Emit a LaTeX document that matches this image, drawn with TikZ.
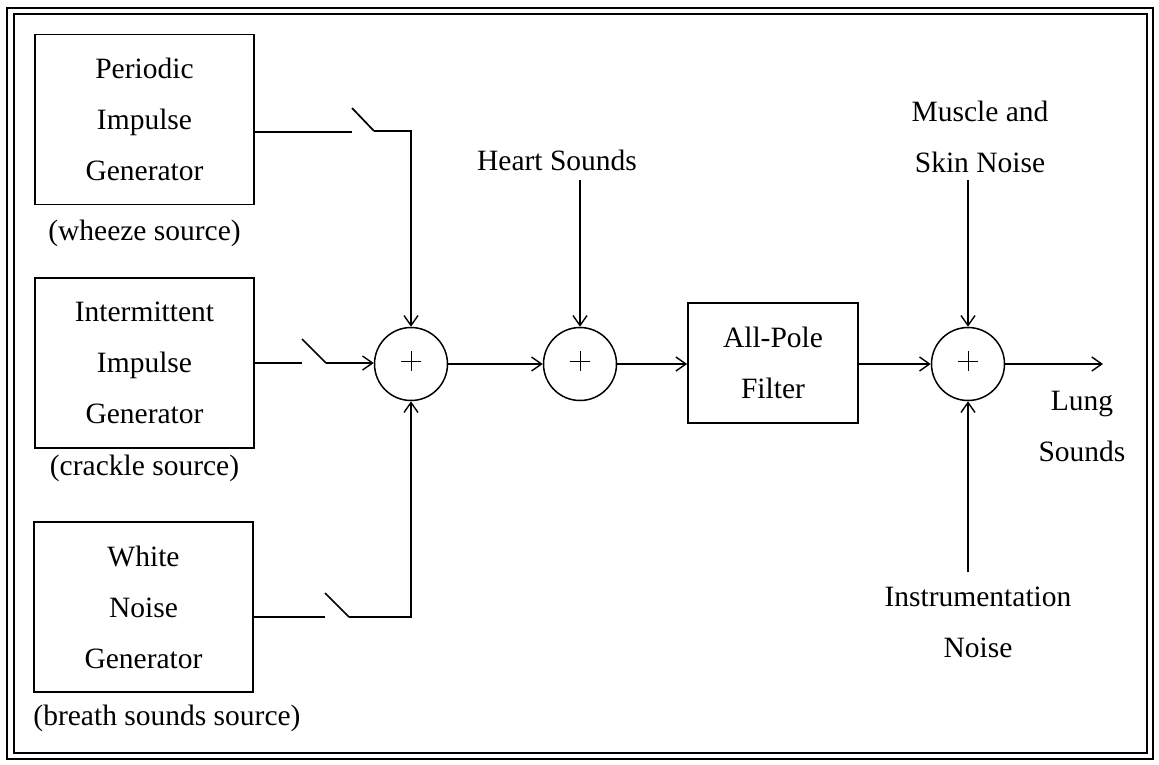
\documentclass[tikz,border=0pt]{standalone}
\usepackage{fontspec}
\setmainfont{Liberation Serif}
\usetikzlibrary{arrows.meta}
\begin{document}
\begin{tikzpicture}[x=1pt,y=-1pt,
  every node/.style={font=\fontsize{29.5}{51}\selectfont, inner sep=0pt},
  genbox/.style={draw, line width=1.8pt, minimum width=219pt, minimum height=170pt, align=center},
  filterbox/.style={draw, line width=1.8pt, minimum width=170pt, minimum height=120pt, align=center},
  sumnode/.style={draw, circle, line width=1.5pt, minimum size=73pt},
  wire/.style={line width=1.7pt},
  sig/.style={line width=1.7pt, -{Straight Barb[length=10pt,width=14pt,line width=1.4pt]}},
  plussign/.style={line width=0.9pt},
  lbl/.style={align=center}
]
\useasboundingbox (0,0) rectangle (1159,764);
% frame
\draw[line width=1.8pt] (7,8) rectangle (1153,759);
\draw[line width=1.8pt] (14,14) rectangle (1147,753);

% generators
\node[genbox] (g1) at (144.5,119.5) {Periodic\\Impulse\\Generator};
\node[lbl] (l1) at (144.5,233) {(wheeze source)};
\node[genbox] (g2) at (144.5,363) {Intermittent\\Impulse\\Generator};
\node[lbl] (l2) at (144.5,468) {(crackle source)};
\node[genbox] (g3) at (143.5,607) {White\\Noise\\Generator};
\node[lbl] (l3) at (167,718) {(breath sounds source)};

% summing junctions
\node[sumnode] (s1) at (411,364) {};
\node[sumnode] (s2) at (580,364) {};
\node[sumnode] (s3) at (968,364) {};
\foreach \s in {s1,s2,s3}{
  \draw[plussign] ([xshift=-10pt,yshift=3pt]\s.center) -- ([xshift=10pt,yshift=3pt]\s.center);
  \draw[plussign] ([yshift=-7pt]\s.center) -- ([yshift=13pt]\s.center);
}

% filter
\node[filterbox] (f) at (773,363) {All-Pole\\Filter};

% external inputs
\node[lbl] (hs) at (557,160) {Heart Sounds};
\node[lbl] (ms) at (980,137) {Muscle and\\Skin Noise};
\node[lbl] (in) at (978,622) {Instrumentation\\Noise};
\node[lbl] (ls) at (1082,426) {Lung\\Sounds};

\coordinate (hsA) at (580,180);
\coordinate (msA) at (968,180);
\coordinate (inA) at (968,572);
\coordinate (out) at (1103,364);

% switch 1
\coordinate (a1) at (352,132);
\coordinate (b1) at (352,108);
\coordinate (c1) at (374,131);
\coordinate (d1) at (411,131);
\draw[wire] (g1.east |- a1) -- (a1);
\draw[wire] (b1) -- (c1);
\draw[sig] (c1) -- (d1) -- (s1.north);

% switch 2
\coordinate (a2) at (302,363);
\coordinate (b2) at (302,339);
\coordinate (c2) at (326,363);
\draw[wire] (g2.east |- a2) -- (a2);
\draw[wire] (b2) -- (c2);
\draw[sig] (c2) -- (s1.west |- c2);

% switch 3
\coordinate (a3) at (325,617);
\coordinate (b3) at (325,593);
\coordinate (c3) at (349,617);
\coordinate (d3) at (411,617);
\draw[wire] (g3.east |- a3) -- (a3);
\draw[wire] (b3) -- (c3);
\draw[sig] (c3) -- (d3) -- (s1.south);

% main chain
\draw[sig] (s1.east) -- (s2.west);
\draw[sig] (s2.east) -- (f.west |- s2.east);
\draw[sig] (f.east |- s3.west) -- (s3.west);
\draw[sig] (s3.east) -- (out);
\draw[sig] (hsA) -- (s2.north);
\draw[sig] (msA) -- (s3.north);
\draw[sig] (inA) -- (s3.south);
\end{tikzpicture}
\end{document}
